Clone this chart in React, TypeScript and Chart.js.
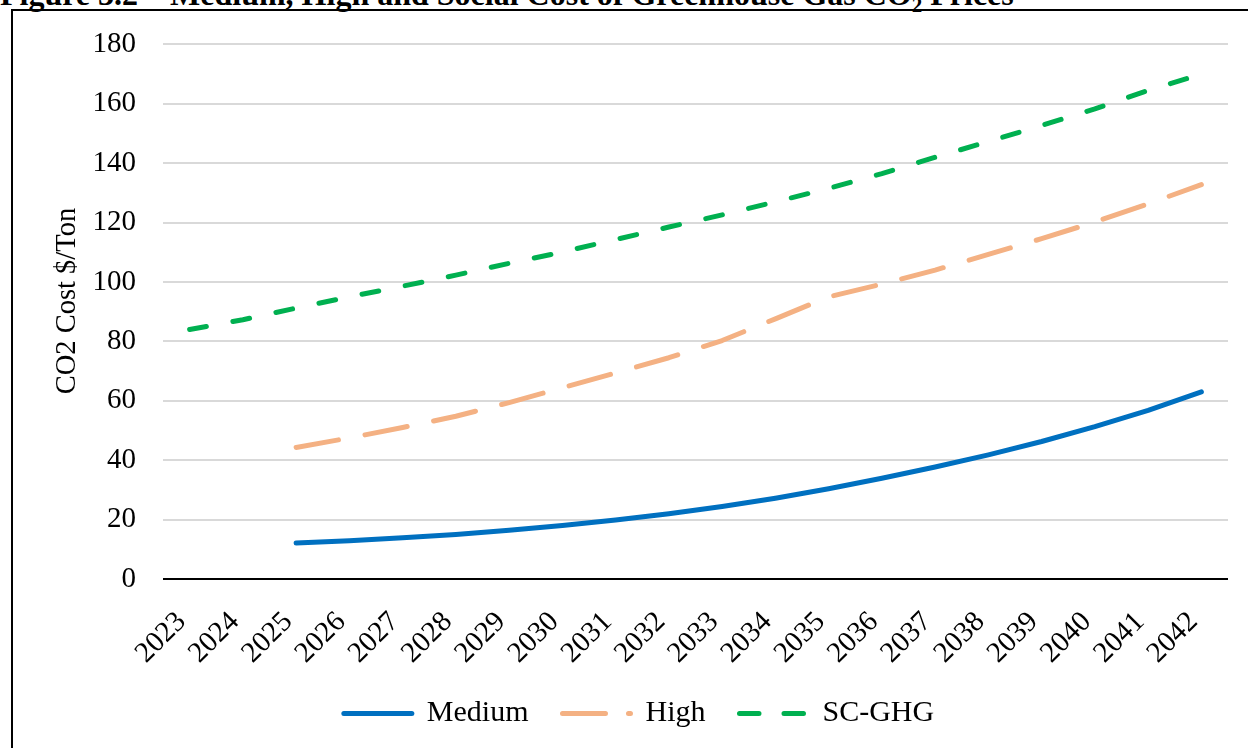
import React, { useEffect, useRef } from 'react';
import { Chart, registerables } from 'chart.js';

Chart.register(...registerables);

const years = ['2023', '2024', '2025', '2026', '2027', '2028', '2029', '2030', '2031', '2032', '2033', '2034', '2035', '2036', '2037', '2038', '2039', '2040', '2041', '2042'];
const medium = [null, null, 12.1, 12.9, 13.9, 15.0, 16.4, 18.0, 19.9, 22.0, 24.4, 27.2, 30.4, 33.9, 37.7, 41.8, 46.3, 51.3, 56.8, 63.0];
const high = [null, null, 44.3, 47.5, 51.0, 54.8, 59.4, 64.4, 69.4, 74.5, 80.3, 87.6, 95.0, 99.3, 104.0, 109.3, 114.6, 120.2, 126.3, 132.8];
const scghg = [84.0, 87.3, 91.2, 95.0, 98.6, 102.3, 106.3, 110.1, 114.3, 118.5, 122.6, 127.0, 131.5, 136.5, 142.0, 147.3, 152.7, 158.3, 164.5, 170.0];
const seriesNames = ['Medium', 'High', 'SC-GHG'];
const yTitle = '   CO2 Cost $/Ton';
const figureTitle = 'Figure 3.2 – Medium, High and Social Cost of Greenhouse Gas CO';

const FONT = "'Liberation Serif', 'Times New Roman', serif";
const colors = ['#0070C0', '#F4B183', '#00B050'];
const lineDashes = [[], [43, 27], [17, 27]];
const legendDashes = [[], [43, 23], [19.5, 25]];

const legendShift = {
  id: 'legendShift',
  afterLayout(chart: any) {
    const l = chart.legend;
    if (l) {
      l.top -= 8.5;
      l.bottom -= 8.5;
    }
  },
};

export default function App() {
  const ref = useRef<HTMLCanvasElement>(null);

  useEffect(() => {
    if (!ref.current) return;
    const chart = new Chart(ref.current, {
      type: 'line',
      data: {
        labels: years,
        datasets: [
          { label: seriesNames[0], data: medium, borderColor: colors[0], backgroundColor: colors[0], borderWidth: 5, borderDash: lineDashes[0], borderCapStyle: 'round', borderJoinStyle: 'round', pointRadius: 0, tension: 0 },
          { label: seriesNames[1], data: high, borderColor: colors[1], backgroundColor: colors[1], borderWidth: 5, borderDash: lineDashes[1], borderCapStyle: 'round', borderJoinStyle: 'round', pointRadius: 0, tension: 0 },
          { label: seriesNames[2], data: scghg, borderColor: colors[2], backgroundColor: colors[2], borderWidth: 5, borderDash: lineDashes[2], borderCapStyle: 'round', borderJoinStyle: 'round', pointRadius: 0, tension: 0 },
        ],
      },
      plugins: [legendShift],
      options: {
        animation: false,
        responsive: true,
        maintainAspectRatio: false,
        layout: { padding: { left: 50, right: 20, top: 41, bottom: 1 } },
        plugins: {
          tooltip: { enabled: false },
          title: { display: false },
          legend: {
            position: 'bottom',
            align: 'center',
            labels: {
              usePointStyle: true,
              pointStyle: 'line',
              pointStyleWidth: 68,
              boxHeight: 30,
              padding: 34,
              color: '#000',
              font: { family: FONT, size: 30 },
              generateLabels: (c: any) => {
                const items = (Chart.defaults.plugins.legend.labels as any).generateLabels(c);
                items.forEach((it: any, i: number) => {
                  it.lineDash = legendDashes[i];
                  it.lineWidth = 5;
                  it.lineCap = 'round';
                  it.pointStyle = 'line';
                  it.strokeStyle = colors[i];
                  it.fillStyle = colors[i];
                });
                return items;
              },
            },
          },
        },
        scales: {
          x: {
            type: 'category',
            offset: true,
            grid: { display: false, drawTicks: false },
            border: { display: false },
            ticks: {
              autoSkip: false,
              maxRotation: 45,
              minRotation: 45,
              padding: 26,
              labelOffset: -8,
              color: '#000',
              font: { family: FONT, size: 29 },
            },
            afterFit: (s: any) => {
              s.height = 94;
              s.paddingLeft = 0;
              s.paddingRight = 0;
            },
          },
          y: {
            min: 0,
            max: 180,
            grid: {
              drawTicks: false,
              lineWidth: 2,
              color: (ctx: any) => (ctx.tick && ctx.tick.value === 0 ? '#000' : '#d9d9d9'),
            },
            border: { display: false },
            ticks: {
              stepSize: 20,
              padding: 27,
              color: '#000',
              font: { family: FONT, size: 29 },
            },
            title: {
              display: true,
              text: yTitle,
              color: '#000',
              font: { family: FONT, size: 28.5 },
              padding: { top: 0, bottom: 0 },
            },
            afterFit: (s: any) => { s.width = 113; },
          },
        },
      },
    });
    return () => chart.destroy();
  }, []);

  return (
    <div style={{ position: 'absolute', left: 0, top: 0, width: 1248, height: 748, overflow: 'hidden', background: '#fff' }}>
      <div style={{ position: 'absolute', left: 0, top: -22, fontFamily: FONT, fontWeight: 'bold', fontSize: 32, lineHeight: '32px', whiteSpace: 'pre', color: '#000' }}>
        {figureTitle}
        <span style={{ fontSize: 21, position: 'relative', top: 7 }}>2</span>
        {' Prices'}
      </div>
      <div style={{ position: 'absolute', left: 11, top: 9, width: 1300, height: 800, border: '2px solid #000' }} />
      <div style={{ position: 'absolute', left: 0, top: 0, width: 1248, height: 748 }}>
        <canvas ref={ref} />
      </div>
    </div>
  );
}
